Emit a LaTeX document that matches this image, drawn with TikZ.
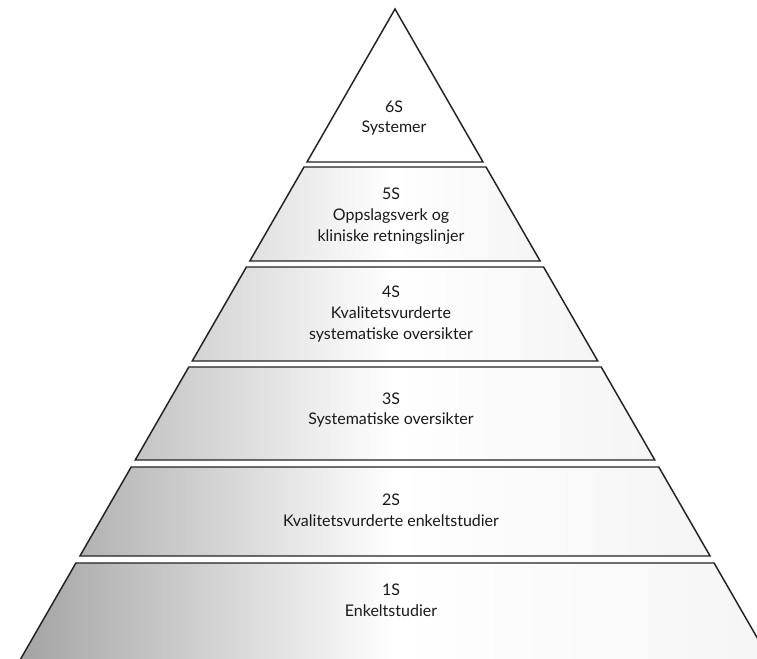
\documentclass[tikz,border=0pt]{standalone}
\usepackage{fontspec}
\setmainfont{Lato}
\begin{document}
\begin{tikzpicture}[x=0.75pt, y=-0.75pt, font=\fontsize{12}{15.5}\selectfont, line join=miter]
  \definecolor{sLayerEdge}{HTML}{222222}
  \tikzset{layer/.style={draw=sLayerEdge, line width=1.1pt},
    label/.style={align=center, inner sep=0pt, text=black!90}}
  \useasboundingbox (0,0) rectangle (757,658);
  \clip (0,0) rectangle (757,658);
  % apex at (395,9); half width grows 0.576 per unit down
  \path[layer, fill=white] (395,9) -- (483,162) -- (307,162) -- cycle;
  \foreach \top/\bottom/\shade in {
    167/261/12,
    267/361/17,
    367/460/23,
    467/556/30,
    563/700/38}{
    \path[layer, left color=black!\shade, right color=black!4, middle color=white]
      ({395-0.576*(\top-9)},\top) -- ({395+0.576*(\top-9)},\top)
      -- ({395+0.576*(\bottom-9)},\bottom) -- ({395-0.576*(\bottom-9)},\bottom) -- cycle;
  }
  \node[label] (sixS) at (394,118) {6S\\Systemer};
  \node[label] (fiveS) at (391,216) {5S\\Oppslagsverk og\\kliniske retningslinjer};
  \node[label] (fourS) at (391,314) {4S\\Kvalitetsvurderte\\systematiske oversikter};
  \node[label] (threeS) at (391,410) {3S\\Systematiske oversikter};
  \node[label] (twoS) at (391,510) {2S\\Kvalitetsvurderte enkeltstudier};
  \node[label] (oneS) at (391,600) {1S\\Enkeltstudier};
\end{tikzpicture}
\end{document}
